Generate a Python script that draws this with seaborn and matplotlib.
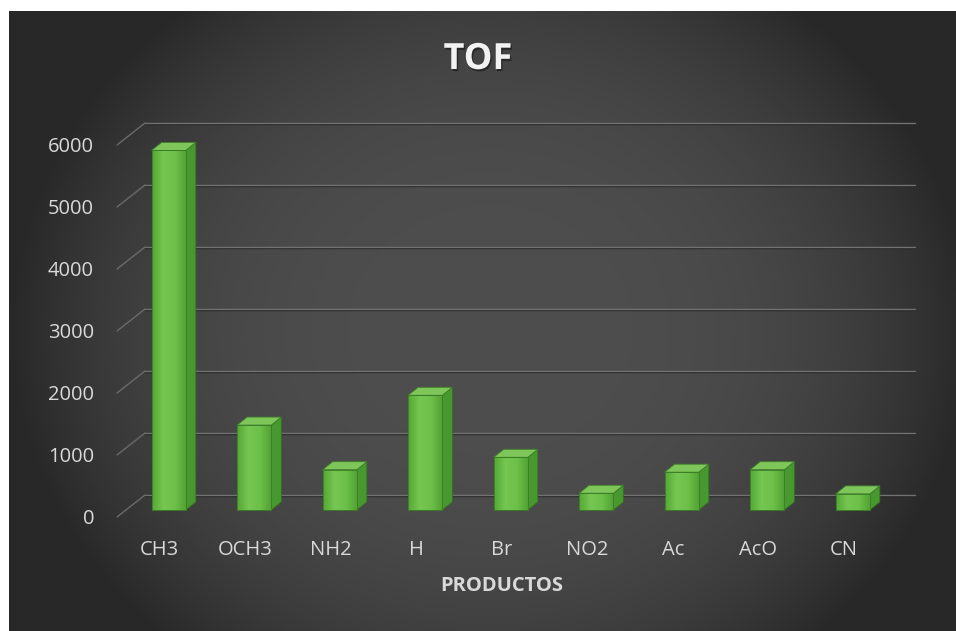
import numpy as np
import pandas as pd
import matplotlib
matplotlib.use("Agg")
import matplotlib.pyplot as plt
import matplotlib.transforms as mtransforms
import matplotlib.patheffects as pe
from matplotlib.patches import Polygon
import seaborn as sns

# ---- data -------------------------------------------------------------
categories = ["CH3", "OCH3", "NH2", "H", "Br", "NO2", "Ac", "AcO", "CN"]
tof_values = [5800, 1370, 650, 1850, 850, 270, 610, 650, 260]
y_ticks = [0, 1000, 2000, 3000, 4000, 5000, 6000]
chart_title = "TOF"
x_title = "PRODUCTOS"

# ---- style ------------------------------------------------------------
sns.set_style("white")
plt.rcParams["font.family"] = ["Open Sans", "DejaVu Sans"]

W, H, DPI = 956, 631, 100
fig = plt.figure(figsize=(W / DPI, H / DPI), dpi=DPI, facecolor="white")

# dark panel with a soft radial highlight
bg = fig.add_axes([9 / W, 0, (W - 9) / W, (H - 11) / H])
bg.set_axis_off()
pw, ph = W - 9, H - 11
xx, yy = np.meshgrid(np.arange(pw) + 9, np.arange(ph) + 11)
d = np.sqrt(((xx - 490) / 480) ** 2 + ((yy - 330) / 420) ** 2)
f = np.clip(1 - d ** 3, 0, 1)
g = (40 + 38 * f) / 255
bg.imshow(np.dstack([g, g, g]), aspect="auto", extent=(0, 1, 0, 1),
          interpolation="bilinear")
bg.set_xlim(0, 1)
bg.set_ylim(0, 1)

# front plane of the 3-D box
ax = fig.add_axes([117 / W, (H - 517) / H, 769.5 / W, 372 / H])
ax.patch.set_alpha(0)
for s in ax.spines.values():
    s.set_visible(False)

df = pd.DataFrame({"producto": categories, "tof": tof_values})
front_col = "#66bb42"
sns.barplot(data=df, x="producto", y="tof", width=0.4, color=front_col,
            saturation=1, edgecolor="#3a7a26", linewidth=0.6, ax=ax, zorder=3)
ax.set_xlim(-0.5, len(categories) - 0.5)
ax.set_ylim(0, 6000)


def shift(dx, dy):
    return mtransforms.ScaledTranslation(dx / DPI, dy / DPI, fig.dpi_scale_trans)


o = ax.transData.transform((0, 0))
ppx = ax.transData.transform((1, 0))[0] - o[0]
ppy = (ax.transData.transform((0, 1000))[1] - o[1]) / 1000

back_tr = ax.transData + shift(28, 22)
back_shadow_tr = ax.transData + shift(28, 20.8)
bar_tr = ax.transData + shift(9, 7)

# walls: gridlines on the back wall and the diagonals on the side wall
x_left, x_right = -0.5, len(categories) - 0.5
for v in y_ticks:
    ax.plot([x_left, x_right], [v, v], transform=back_shadow_tr,
            color="#262626", lw=1.0, zorder=1, clip_on=False)
    ax.plot([x_left, x_right], [v, v], transform=back_tr,
            color="#727272", lw=1.0, zorder=1.1, clip_on=False)
    ax.plot([x_left, x_left + 28 / ppx], [v, v + 22 / ppy],
            color="#6a6a6a", lw=1.0, zorder=1.1, clip_on=False)

# bars: front face with gradient, side and top faces
dxd, dyd = 10 / ppx, 8 / ppy
grad_cols = np.array([[84, 168, 52], [118, 198, 82], [108, 192, 72], [80, 160, 50]]) / 255
gx = np.linspace(0, 1, 64)
stops = np.linspace(0, 1, len(grad_cols))
grad = np.stack([np.interp(gx, stops, grad_cols[:, c]) for c in range(3)], axis=-1)[None, :, :]

for p in list(ax.patches):
    p.set_transform(bar_tr)
    p.set_clip_on(False)
    x0, w, h = p.get_x(), p.get_width(), p.get_height()
    im = ax.imshow(grad, extent=(x0, x0 + w, 0, h), aspect="auto",
                   interpolation="bilinear", zorder=3.1)
    im.set_transform(bar_tr)
    im.set_clip_path(p)
    side = Polygon([(x0 + w, 0), (x0 + w + dxd, dyd), (x0 + w + dxd, h + dyd), (x0 + w, h)],
                   closed=True, transform=bar_tr, facecolor="#489830",
                   edgecolor="#33701f", lw=0.6, zorder=2.9, clip_on=False)
    top = Polygon([(x0, h), (x0 + w, h), (x0 + w + dxd, h + dyd), (x0 + dxd, h + dyd)],
                  closed=True, transform=bar_tr, facecolor="#7ec65a",
                  edgecolor="#3f7e2a", lw=0.6, zorder=3.2, clip_on=False)
    ax.add_patch(side)
    ax.add_patch(top)
    edge = plt.Rectangle((x0, 0), w, h, fill=False, edgecolor="#3a7a26", lw=0.6,
                         transform=bar_tr, zorder=3.3, clip_on=False)
    ax.add_patch(edge)

ax.set_xlim(-0.5, len(categories) - 0.5)
ax.set_ylim(0, 6000)

# axes text
label_col = "#d9d9d9"
ax.set_xticks(range(len(categories)))
ax.set_xticklabels(categories)
ax.set_yticks(y_ticks)
ax.set_yticklabels([str(v) for v in y_ticks])
ax.tick_params(axis="x", length=0, pad=16.5, labelsize=14.5, labelcolor=label_col)
ax.tick_params(axis="y", length=0, pad=16.5, labelsize=14.5, labelcolor=label_col)
ax.set_xlabel("")
ax.set_ylabel("")

fig.text(502 / W, 1 - 586 / H, x_title, ha="center", va="center",
         fontsize=14.5, fontweight="bold", color=label_col)
fig.text(478 / W, 1 - 60 / H, chart_title, ha="center", va="center",
         fontsize=26, fontweight="bold", color="#f2f2f2",
         path_effects=[pe.withSimplePatchShadow(offset=(1, -1.5), shadow_rgbFace="black", alpha=0.4)])

fig.savefig("out.png", dpi=DPI, facecolor="white")
